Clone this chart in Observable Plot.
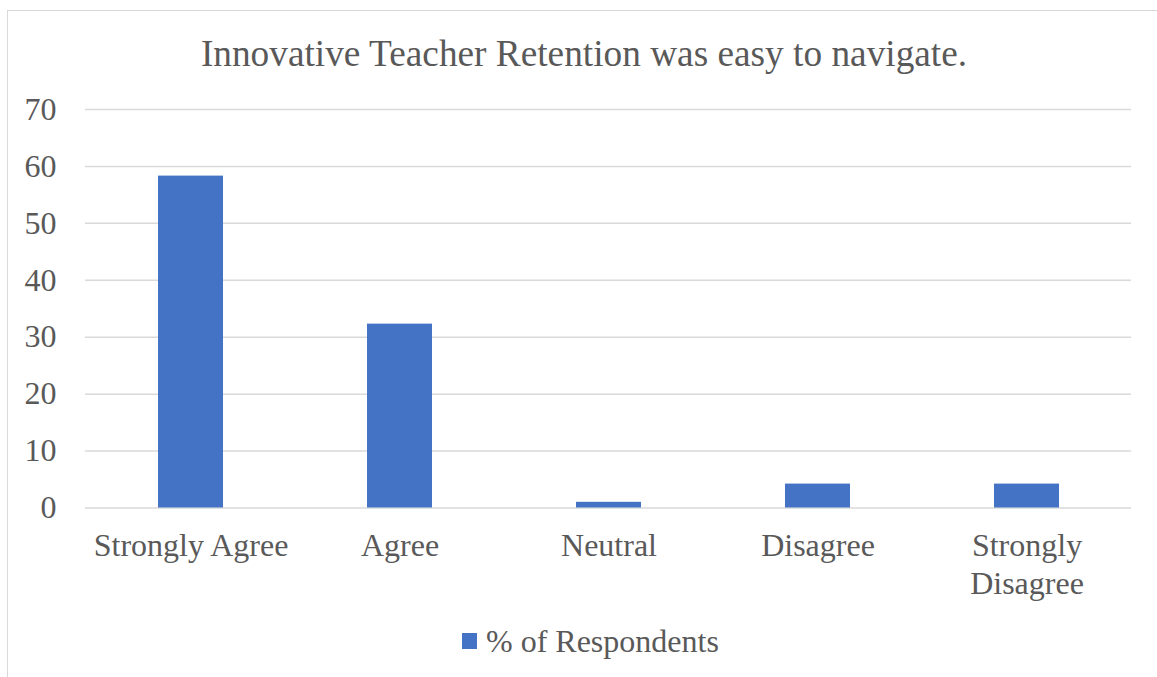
<!DOCTYPE html>
<html>
<head>
<meta charset="utf-8">
<script src="https://cdn.jsdelivr.net/npm/d3@7"></script>
<script src="https://cdn.jsdelivr.net/npm/@observablehq/plot@0.6"></script>
<style>
  html, body { margin: 0; padding: 0; background: #fff; overflow: hidden; }
  #wrap { position: relative; width: 1157px; height: 677px; font-family: 'Liberation Serif', 'Times New Roman', serif; color: #595959; }
  #frame { position: absolute; left: 7px; top: 10px; width: 1170px; height: 690px; border: 1.5px solid #d9d9d9; box-sizing: border-box; }
  #title { position: absolute; left: 0; top: 35px; width: 1168px; text-align: center; font-family: 'Liberation Serif', serif; font-size: 37.3px; line-height: 37px; white-space: nowrap; }
  #chart { position: absolute; left: 0; top: 0; }
  #chart svg text { font-family: 'Liberation Serif', serif; }
  #legend-swatch { position: absolute; left: 462px; top: 633px; width: 15px; height: 16px; background: #4472C4; }
  #legend-text { position: absolute; left: 486px; top: 625px; font-family: 'Liberation Serif', serif; font-size: 32px; line-height: 32px; white-space: nowrap; }
</style>
</head>
<body>
<div id="wrap">
  <div id="frame"></div>
  <div id="title"></div>
  <div id="chart"></div>
  <div id="legend-swatch"></div>
  <div id="legend-text"></div>
</div>
<script>
const titleText = "Innovative Teacher Retention was easy to navigate.";
const seriesName = "% of Respondents";
const categories = ["Strongly Agree", "Agree", "Neutral", "Disagree", "Strongly Disagree"];
const tickLabels = ["Strongly Agree", "Agree", "Neutral", "Disagree", "Strongly\nDisagree"];
const values = [58.3, 32.3, 1.0, 4.2, 4.2];
const yTicks = [0, 10, 20, 30, 40, 50, 60, 70];

document.getElementById("title").textContent = titleText;
document.getElementById("legend-text").textContent = seriesName;

const data = categories.map((c, i) => ({category: c, value: values[i]}));
const labelOf = new Map(categories.map((c, i) => [c, tickLabels[i]]));

const chart = Plot.plot({
  width: 1157,
  height: 677,
  marginTop: 109,
  marginBottom: 169.5,
  marginLeft: 85,
  marginRight: 26,
  style: {fontFamily: "Liberation Serif, serif", color: "#595959", background: "transparent", overflow: "visible"},
  x: {domain: categories, paddingInner: 0.69, paddingOuter: 0.345},
  y: {domain: [0, 70]},
  marks: [
    Plot.gridY(yTicks, {stroke: "#d9d9d9", strokeOpacity: 1, strokeWidth: 1.5}),
    Plot.barY(data, {x: "category", y: "value", fill: "#4472C4"}),
    Plot.axisY(yTicks, {tickSize: 0, tickPadding: 29, fontSize: 32, fill: "#595959", label: null}),
    Plot.axisX({tickSize: 0, tickPadding: 21, fontSize: 32, lineHeight: 1.18, fill: "#595959", label: null, tickFormat: d => labelOf.get(d)})
  ]
});
document.getElementById("chart").appendChild(chart);
</script>
</body>
</html>
